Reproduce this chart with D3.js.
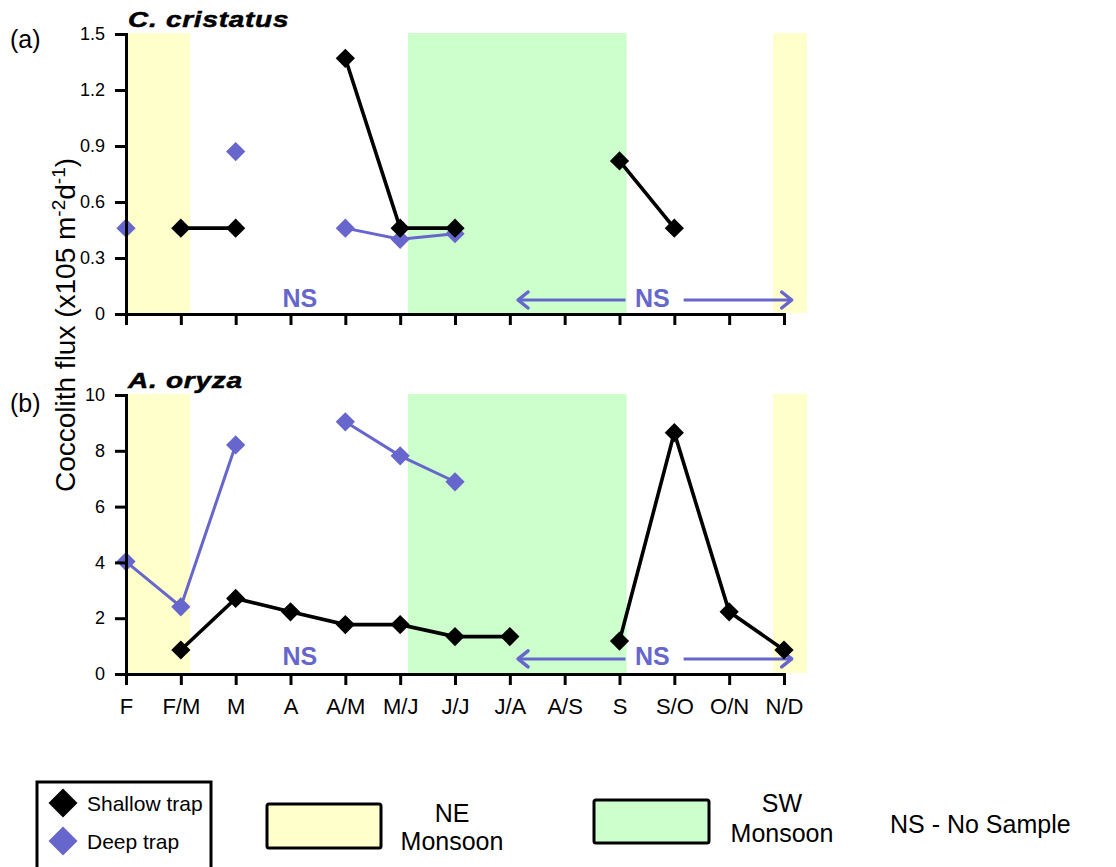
<!DOCTYPE html>
<html>
<head>
<meta charset="utf-8">
<script src="https://cdn.jsdelivr.net/npm/d3@7"></script>
<style>
  body { margin: 0; background: #fff; }
  svg { font-family: "Liberation Sans", Arial, sans-serif; }
</style>
</head>
<body>
<div id="chart"></div>
<script>
// month labels along the x axis
const months = ['F', 'F/M', 'M', 'A', 'A/M', 'M/J', 'J/J', 'J/A', 'A/S', 'S', 'S/O', 'O/N', 'N/D'];

// (a) C. cristatus
const ccShallow = [null, 0.46, 0.46, null, 1.37, 0.46, 0.46, null, null, 0.82, 0.46, null, null];
const ccDeep    = [0.46, null, 0.87, null, 0.46, 0.40, 0.43, null, null, null, null, null, null];

// (b) A. oryza
const aoShallow = [null, 0.86, 2.71, 2.23, 1.77, 1.77, 1.34, 1.34, null, 1.18, 8.65, 2.23, 0.86];
const aoDeep    = [4.03, 2.41, 8.21, null, 9.04, 7.82, 6.89, null, null, null, null, null, null];

const ccTicks = [0, 0.3, 0.6, 0.9, 1.2, 1.5];
const aoTicks = [0, 2, 4, 6, 8, 10];

// monsoon periods, in month-index units
const neBands = [[0, 1.17], [11.8, 12.42]];
const swBands = [[5.14, 9.13]];

const colShallow = '#000000';
const colDeep = '#6666cc';
const colNE = '#ffffcc';
const colSW = '#ccffcc';

const svg = d3.select('#chart').append('svg')
    .attr('width', 1116)
    .attr('height', 867);

const x = d3.scaleLinear().domain([0, months.length - 1]).range([126, 784]);

const panels = [
    {label: '(a)', title: 'C. cristatus', shallow: ccShallow, deep: ccDeep, ticks: ccTicks,
     fmt: d => d === 0 ? '0' : d.toFixed(1),
     y: d3.scaleLinear().domain([0, 1.5]).range([314, 34]),
     nsY: 0.04, arrowY: 0.075, labelDy: 14, showX: false},
    {label: '(b)', title: 'A. oryza', shallow: aoShallow, deep: aoDeep, ticks: aoTicks,
     fmt: d3.format('d'),
     y: d3.scaleLinear().domain([0, 10]).range([674, 395]),
     nsY: 0.34, arrowY: 0.54, labelDy: 17, showX: true}
];

const diamond = d3.symbol(d3.symbolSquare, 185);

panels.forEach(p => {
    const g = svg.append('g');
    const y = p.y;
    const top = y.range()[1];
    const bottom = y.range()[0];

    // monsoon shading
    g.selectAll('.ne').data(neBands).enter().append('rect')
        .attr('x', d => x(d[0]))
        .attr('width', d => x(d[1]) - x(d[0]))
        .attr('y', top - 1)
        .attr('height', bottom - top)
        .attr('fill', colNE);
    g.selectAll('.sw').data(swBands).enter().append('rect')
        .attr('x', d => x(d[0]))
        .attr('width', d => x(d[1]) - x(d[0]))
        .attr('y', top - 1)
        .attr('height', bottom - top)
        .attr('fill', colSW);

    // NS annotations
    [3.17, 9.6].forEach(xi => {
        g.append('text')
            .attr('x', x(xi)).attr('y', y(p.nsY))
            .attr('text-anchor', 'middle')
            .attr('font-size', 25).attr('font-weight', 'bold')
            .attr('fill', colDeep)
            .text('NS');
    });

    const ay = y(p.arrowY);
    const arrows = [[7.15, 9.11, -1], [10.17, 12.14, 1]];
    arrows.forEach(a => {
        const x0 = x(a[0]), x1 = x(a[1]);
        const tip = a[2] < 0 ? x0 : x1;
        const back = a[2] < 0 ? 10 : -10;
        g.append('line')
            .attr('x1', x0).attr('x2', x1).attr('y1', ay).attr('y2', ay)
            .attr('stroke', colDeep).attr('stroke-width', 3);
        g.append('path')
            .attr('d', `M${tip + back},${ay - 8} L${tip},${ay} L${tip + back},${ay + 8}`)
            .attr('fill', 'none')
            .attr('stroke', colDeep).attr('stroke-width', 3.5)
            .attr('stroke-linecap', 'round').attr('stroke-linejoin', 'round');
    });

    // series
    const line = d3.line()
        .defined(d => d != null)
        .x((d, i) => x(i))
        .y(d => y(d));

    [[p.deep, colDeep, 3], [p.shallow, colShallow, 3.6]].forEach(s => {
        g.append('path')
            .datum(s[0])
            .attr('d', line)
            .attr('fill', 'none')
            .attr('stroke', s[1])
            .attr('stroke-width', s[2]);
    });

    // deep first, then shallow on top
    [[p.deep, colDeep], [p.shallow, colShallow]].forEach(s => {
        g.selectAll(null)
            .data(s[0].map((v, i) => ({i, v})).filter(d => d.v != null))
            .enter().append('path')
            .attr('d', diamond)
            .attr('transform', d => `translate(${x(d.i)},${y(d.v)}) rotate(45)`)
            .attr('fill', s[1]);
    });

    // axes
    const yAxis = g.append('g')
        .attr('transform', `translate(${x(0)},0)`)
        .call(d3.axisLeft(y).tickValues(p.ticks).tickFormat(p.fmt).tickSize(11).tickSizeOuter(0).tickPadding(10));
    const xAxis = g.append('g')
        .attr('transform', `translate(0,${bottom})`)
        .call(d3.axisBottom(x).tickValues(d3.range(months.length))
            .tickFormat(i => p.showX ? months[i] : '')
            .tickSize(11).tickSizeOuter(0).tickPadding(13));

    [yAxis, xAxis].forEach(ax => {
        ax.select('.domain').attr('stroke', '#000').attr('stroke-width', 3).attr('stroke-linecap', 'square');
        ax.selectAll('.tick line').attr('stroke', '#000').attr('stroke-width', 3);
        ax.selectAll('.tick text')
            .attr('fill', '#000')
            .attr('font-family', '"Liberation Sans", Arial, sans-serif');
    });
    yAxis.selectAll('.tick text').attr('font-size', 18);
    xAxis.selectAll('.tick text').attr('font-size', 22);

    // panel labels
    g.append('text')
        .attr('x', 10).attr('y', top + p.labelDy)
        .attr('font-size', 25)
        .text(p.label);
    // species name: a wide heavy italic, stretched sideways
    g.append('text')
        .attr('transform', `translate(128,${top - 7}) scale(1.27,1)`)
        .attr('font-size', 22).attr('font-weight', 'bold').attr('font-style', 'italic')
        .attr('letter-spacing', 0.6)
        .attr('stroke', '#000').attr('stroke-width', 0.5)
        .text(p.title);
});

// y axis title
const yTitle = svg.append('text')
    .attr('transform', 'translate(75,325) rotate(-90)')
    .attr('text-anchor', 'middle')
    .attr('font-size', 28);
yTitle.append('tspan').text('Coccolith flux (x105 m');
yTitle.append('tspan').attr('dy', -10).attr('font-size', 19).text('-2');
yTitle.append('tspan').attr('dy', 10).text('d');
yTitle.append('tspan').attr('dy', -10).attr('font-size', 19).text('-1');
yTitle.append('tspan').attr('dy', 10).text(')');

// legend
const leg = svg.append('g');
leg.append('rect')
    .attr('x', 37).attr('y', 782).attr('width', 174).attr('height', 100)
    .attr('fill', 'none').attr('stroke', '#000').attr('stroke-width', 3);
const legItems = [['Shallow trap', colShallow, 803], ['Deep trap', colDeep, 841]];
legItems.forEach(d => {
    leg.append('path')
        .attr('d', d3.symbol(d3.symbolSquare, 420))
        .attr('transform', `translate(63,${d[2]}) rotate(45)`)
        .attr('fill', d[1]);
    leg.append('text')
        .attr('x', 87).attr('y', d[2] + 8)
        .attr('font-size', 21)
        .text(d[0]);
});

leg.append('rect')
    .attr('x', 267).attr('y', 804).attr('width', 114).attr('height', 44)
    .attr('fill', colNE).attr('stroke', '#000').attr('stroke-width', 3).attr('rx', 2);
leg.append('text').attr('x', 452).attr('y', 822).attr('text-anchor', 'middle').attr('font-size', 25).text('NE');
leg.append('text').attr('x', 452).attr('y', 850).attr('text-anchor', 'middle').attr('font-size', 25).text('Monsoon');

leg.append('rect')
    .attr('x', 594).attr('y', 800).attr('width', 115).attr('height', 43)
    .attr('fill', colSW).attr('stroke', '#000').attr('stroke-width', 3).attr('rx', 2);
leg.append('text').attr('x', 782).attr('y', 812).attr('text-anchor', 'middle').attr('font-size', 25).text('SW');
leg.append('text').attr('x', 782).attr('y', 842).attr('text-anchor', 'middle').attr('font-size', 25).text('Monsoon');

leg.append('text').attr('x', 890).attr('y', 833).attr('font-size', 25).text('NS - No Sample');
</script>
</body>
</html>
